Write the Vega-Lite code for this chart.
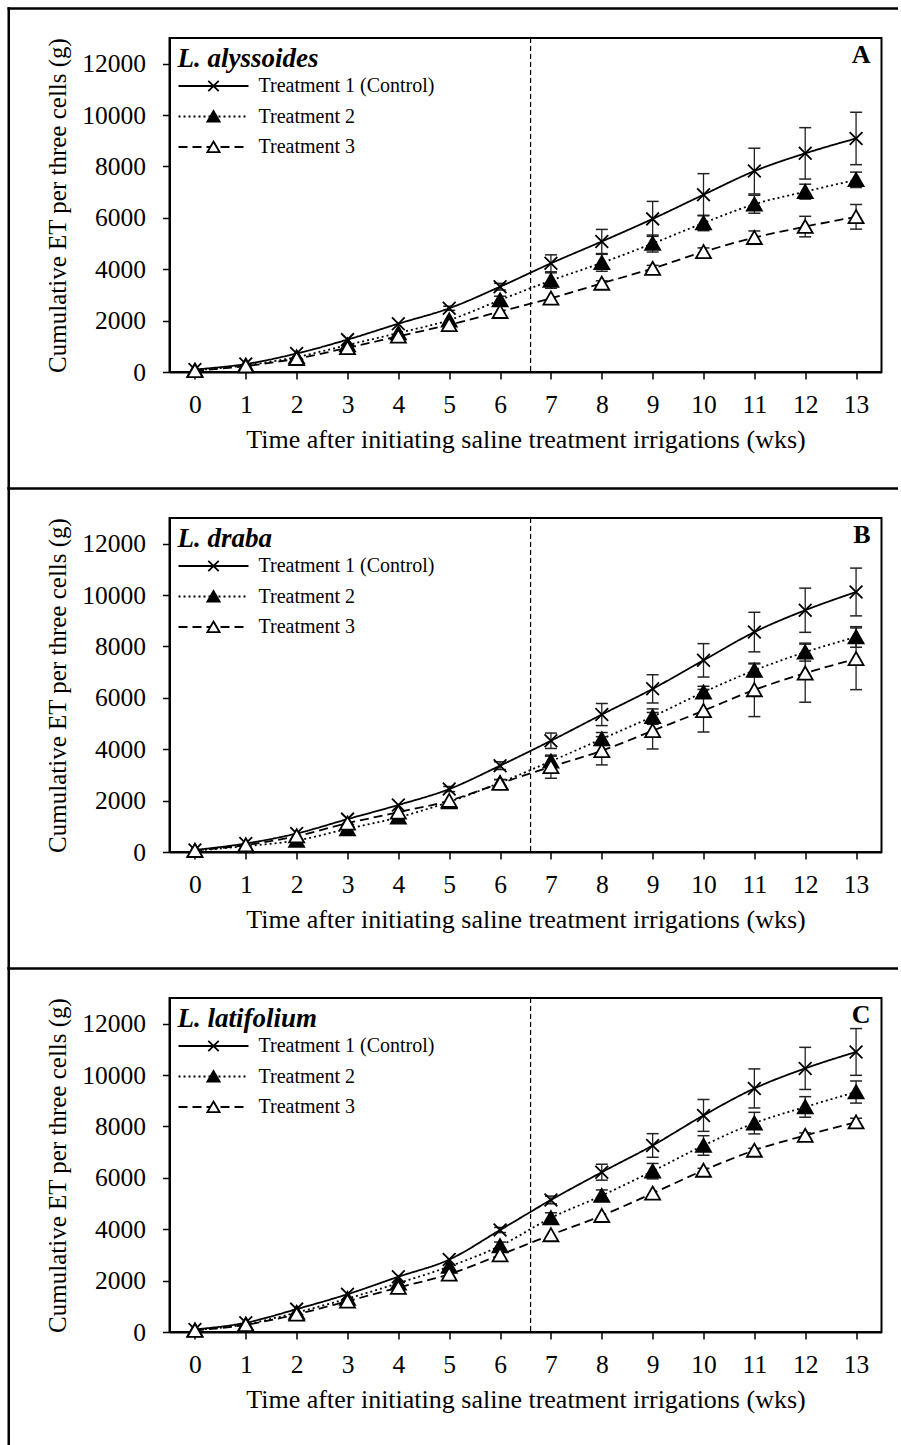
{
"$schema": "https://vega.github.io/schema/vega-lite/v6.json",
"background": "white",
"padding": {"left": 5.5, "top": 5, "right": 0, "bottom": 0},
"autosize": {"type": "pad"},
"bounds": "flush",
"spacing": 146,
"datasets": {
"et": [
{"p":"A","wk":0,"trt":"Treatment 1 (Control)","et":100},
{"p":"A","wk":1,"trt":"Treatment 1 (Control)","et":310},
{"p":"A","wk":2,"trt":"Treatment 1 (Control)","et":720},
{"p":"A","wk":3,"trt":"Treatment 1 (Control)","et":1260},
{"p":"A","wk":4,"trt":"Treatment 1 (Control)","et":1880},
{"p":"A","wk":5,"trt":"Treatment 1 (Control)","et":2480,"lo":2400,"hi":2560},
{"p":"A","wk":6,"trt":"Treatment 1 (Control)","et":3320,"lo":3190,"hi":3450},
{"p":"A","wk":7,"trt":"Treatment 1 (Control)","et":4230,"lo":3900,"hi":4560},
{"p":"A","wk":8,"trt":"Treatment 1 (Control)","et":5080,"lo":4610,"hi":5550},
{"p":"A","wk":9,"trt":"Treatment 1 (Control)","et":5960,"lo":5280,"hi":6640},
{"p":"A","wk":10,"trt":"Treatment 1 (Control)","et":6900,"lo":6080,"hi":7720},
{"p":"A","wk":11,"trt":"Treatment 1 (Control)","et":7820,"lo":6930,"hi":8710},
{"p":"A","wk":12,"trt":"Treatment 1 (Control)","et":8510,"lo":7510,"hi":9510},
{"p":"A","wk":13,"trt":"Treatment 1 (Control)","et":9090,"lo":8070,"hi":10110},
{"p":"A","wk":0,"trt":"Treatment 2","et":70},
{"p":"A","wk":1,"trt":"Treatment 2","et":260},
{"p":"A","wk":2,"trt":"Treatment 2","et":580},
{"p":"A","wk":3,"trt":"Treatment 2","et":1050},
{"p":"A","wk":4,"trt":"Treatment 2","et":1520},
{"p":"A","wk":5,"trt":"Treatment 2","et":2020},
{"p":"A","wk":6,"trt":"Treatment 2","et":2800,"lo":2650,"hi":2950},
{"p":"A","wk":7,"trt":"Treatment 2","et":3560,"lo":3260,"hi":3860},
{"p":"A","wk":8,"trt":"Treatment 2","et":4250,"lo":3920,"hi":4580},
{"p":"A","wk":9,"trt":"Treatment 2","et":5000,"lo":4670,"hi":5330},
{"p":"A","wk":10,"trt":"Treatment 2","et":5800,"lo":5500,"hi":6100},
{"p":"A","wk":11,"trt":"Treatment 2","et":6530,"lo":6180,"hi":6880},
{"p":"A","wk":12,"trt":"Treatment 2","et":7020,"lo":6730,"hi":7310},
{"p":"A","wk":13,"trt":"Treatment 2","et":7480,"lo":7180,"hi":7780},
{"p":"A","wk":0,"trt":"Treatment 3","et":50},
{"p":"A","wk":1,"trt":"Treatment 3","et":230},
{"p":"A","wk":2,"trt":"Treatment 3","et":520},
{"p":"A","wk":3,"trt":"Treatment 3","et":940},
{"p":"A","wk":4,"trt":"Treatment 3","et":1390},
{"p":"A","wk":5,"trt":"Treatment 3","et":1840},
{"p":"A","wk":6,"trt":"Treatment 3","et":2350},
{"p":"A","wk":7,"trt":"Treatment 3","et":2870},
{"p":"A","wk":8,"trt":"Treatment 3","et":3450,"lo":3350,"hi":3550},
{"p":"A","wk":9,"trt":"Treatment 3","et":4030,"lo":3910,"hi":4150},
{"p":"A","wk":10,"trt":"Treatment 3","et":4680,"lo":4530,"hi":4830},
{"p":"A","wk":11,"trt":"Treatment 3","et":5230,"lo":4970,"hi":5490},
{"p":"A","wk":12,"trt":"Treatment 3","et":5660,"lo":5260,"hi":6060},
{"p":"A","wk":13,"trt":"Treatment 3","et":6040,"lo":5560,"hi":6520},
{"p":"B","wk":0,"trt":"Treatment 1 (Control)","et":80},
{"p":"B","wk":1,"trt":"Treatment 1 (Control)","et":330},
{"p":"B","wk":2,"trt":"Treatment 1 (Control)","et":720},
{"p":"B","wk":3,"trt":"Treatment 1 (Control)","et":1280},
{"p":"B","wk":4,"trt":"Treatment 1 (Control)","et":1830},
{"p":"B","wk":5,"trt":"Treatment 1 (Control)","et":2450,"lo":2350,"hi":2550},
{"p":"B","wk":6,"trt":"Treatment 1 (Control)","et":3360,"lo":3210,"hi":3510},
{"p":"B","wk":7,"trt":"Treatment 1 (Control)","et":4330,"lo":4030,"hi":4630},
{"p":"B","wk":8,"trt":"Treatment 1 (Control)","et":5350,"lo":4920,"hi":5780},
{"p":"B","wk":9,"trt":"Treatment 1 (Control)","et":6350,"lo":5800,"hi":6900},
{"p":"B","wk":10,"trt":"Treatment 1 (Control)","et":7460,"lo":6810,"hi":8110},
{"p":"B","wk":11,"trt":"Treatment 1 (Control)","et":8560,"lo":7790,"hi":9330},
{"p":"B","wk":12,"trt":"Treatment 1 (Control)","et":9410,"lo":8550,"hi":10270},
{"p":"B","wk":13,"trt":"Treatment 1 (Control)","et":10120,"lo":9190,"hi":11050},
{"p":"B","wk":0,"trt":"Treatment 2","et":50},
{"p":"B","wk":1,"trt":"Treatment 2","et":230},
{"p":"B","wk":2,"trt":"Treatment 2","et":450},
{"p":"B","wk":3,"trt":"Treatment 2","et":900},
{"p":"B","wk":4,"trt":"Treatment 2","et":1350},
{"p":"B","wk":5,"trt":"Treatment 2","et":1950},
{"p":"B","wk":6,"trt":"Treatment 2","et":2700,"lo":2580,"hi":2820},
{"p":"B","wk":7,"trt":"Treatment 2","et":3530,"lo":3330,"hi":3730},
{"p":"B","wk":8,"trt":"Treatment 2","et":4400,"lo":4150,"hi":4650},
{"p":"B","wk":9,"trt":"Treatment 2","et":5270,"lo":4970,"hi":5570},
{"p":"B","wk":10,"trt":"Treatment 2","et":6220,"lo":5990,"hi":6450},
{"p":"B","wk":11,"trt":"Treatment 2","et":7070,"lo":6820,"hi":7320},
{"p":"B","wk":12,"trt":"Treatment 2","et":7780,"lo":7430,"hi":8130},
{"p":"B","wk":13,"trt":"Treatment 2","et":8370,"lo":7970,"hi":8770},
{"p":"B","wk":0,"trt":"Treatment 3","et":60},
{"p":"B","wk":1,"trt":"Treatment 3","et":270},
{"p":"B","wk":2,"trt":"Treatment 3","et":620},
{"p":"B","wk":3,"trt":"Treatment 3","et":1120},
{"p":"B","wk":4,"trt":"Treatment 3","et":1550},
{"p":"B","wk":5,"trt":"Treatment 3","et":2000},
{"p":"B","wk":6,"trt":"Treatment 3","et":2670,"lo":2520,"hi":2820},
{"p":"B","wk":7,"trt":"Treatment 3","et":3320,"lo":2870,"hi":3770},
{"p":"B","wk":8,"trt":"Treatment 3","et":3940,"lo":3390,"hi":4490},
{"p":"B","wk":9,"trt":"Treatment 3","et":4720,"lo":4010,"hi":5430},
{"p":"B","wk":10,"trt":"Treatment 3","et":5500,"lo":4670,"hi":6330},
{"p":"B","wk":11,"trt":"Treatment 3","et":6310,"lo":5270,"hi":7350},
{"p":"B","wk":12,"trt":"Treatment 3","et":6960,"lo":5830,"hi":8090},
{"p":"B","wk":13,"trt":"Treatment 3","et":7520,"lo":6320,"hi":8720},
{"p":"C","wk":0,"trt":"Treatment 1 (Control)","et":100},
{"p":"C","wk":1,"trt":"Treatment 1 (Control)","et":360},
{"p":"C","wk":2,"trt":"Treatment 1 (Control)","et":890},
{"p":"C","wk":3,"trt":"Treatment 1 (Control)","et":1470},
{"p":"C","wk":4,"trt":"Treatment 1 (Control)","et":2150},
{"p":"C","wk":5,"trt":"Treatment 1 (Control)","et":2820},
{"p":"C","wk":6,"trt":"Treatment 1 (Control)","et":3970,"lo":3870,"hi":4070},
{"p":"C","wk":7,"trt":"Treatment 1 (Control)","et":5140,"lo":4990,"hi":5290},
{"p":"C","wk":8,"trt":"Treatment 1 (Control)","et":6220,"lo":5910,"hi":6530},
{"p":"C","wk":9,"trt":"Treatment 1 (Control)","et":7260,"lo":6800,"hi":7720},
{"p":"C","wk":10,"trt":"Treatment 1 (Control)","et":8430,"lo":7810,"hi":9050},
{"p":"C","wk":11,"trt":"Treatment 1 (Control)","et":9480,"lo":8720,"hi":10240},
{"p":"C","wk":12,"trt":"Treatment 1 (Control)","et":10260,"lo":9440,"hi":11080},
{"p":"C","wk":13,"trt":"Treatment 1 (Control)","et":10900,"lo":9990,"hi":11810},
{"p":"C","wk":0,"trt":"Treatment 2","et":80},
{"p":"C","wk":1,"trt":"Treatment 2","et":300},
{"p":"C","wk":2,"trt":"Treatment 2","et":760},
{"p":"C","wk":3,"trt":"Treatment 2","et":1300},
{"p":"C","wk":4,"trt":"Treatment 2","et":1900},
{"p":"C","wk":5,"trt":"Treatment 2","et":2550},
{"p":"C","wk":6,"trt":"Treatment 2","et":3350,"lo":3200,"hi":3500},
{"p":"C","wk":7,"trt":"Treatment 2","et":4440,"lo":4240,"hi":4640},
{"p":"C","wk":8,"trt":"Treatment 2","et":5310,"lo":5090,"hi":5530},
{"p":"C","wk":9,"trt":"Treatment 2","et":6260,"lo":5960,"hi":6560},
{"p":"C","wk":10,"trt":"Treatment 2","et":7260,"lo":6880,"hi":7640},
{"p":"C","wk":11,"trt":"Treatment 2","et":8130,"lo":7710,"hi":8550},
{"p":"C","wk":12,"trt":"Treatment 2","et":8760,"lo":8360,"hi":9160},
{"p":"C","wk":13,"trt":"Treatment 2","et":9340,"lo":8910,"hi":9770},
{"p":"C","wk":0,"trt":"Treatment 3","et":60},
{"p":"C","wk":1,"trt":"Treatment 3","et":280},
{"p":"C","wk":2,"trt":"Treatment 3","et":690},
{"p":"C","wk":3,"trt":"Treatment 3","et":1200},
{"p":"C","wk":4,"trt":"Treatment 3","et":1730},
{"p":"C","wk":5,"trt":"Treatment 3","et":2250},
{"p":"C","wk":6,"trt":"Treatment 3","et":3000},
{"p":"C","wk":7,"trt":"Treatment 3","et":3780},
{"p":"C","wk":8,"trt":"Treatment 3","et":4530},
{"p":"C","wk":9,"trt":"Treatment 3","et":5400},
{"p":"C","wk":10,"trt":"Treatment 3","et":6290,"lo":6210,"hi":6370},
{"p":"C","wk":11,"trt":"Treatment 3","et":7070,"lo":6990,"hi":7150},
{"p":"C","wk":12,"trt":"Treatment 3","et":7650,"lo":7550,"hi":7750},
{"p":"C","wk":13,"trt":"Treatment 3","et":8170,"lo":8020,"hi":8320}
]
},
"vconcat": [
{
"width": 712, "height": 334,
"layer": [
{"data":{"values":[{}]},"mark":{"type":"rule","color":"black","strokeWidth":2.5,"strokeCap":"square"},"encoding":{"x":{"datum":-3.661,"type":"quantitative"},"x2":{"datum":13.8},"y":{"datum":14148,"type":"quantitative"}}},
{"data":{"values":[{}]},"mark":{"type":"rule","color":"black","strokeWidth":2.5,"strokeCap":"square"},"encoding":{"x":{"datum":-3.661,"type":"quantitative"},"y":{"datum":14148,"type":"quantitative"},"y2":{"datum":-4534}}},
{"data":{"values":[{}]},"mark":{"type":"rule","color":"black","strokeWidth":1.2,"strokeDash":[5,3]},"encoding":{"x":{"datum":6.6,"type":"quantitative"}}},
{"data":{"name":"et"},"transform":[{"filter":"datum.p == 'A'"}],
 "mark":{"type":"line","interpolate":"monotone","color":"black","strokeWidth":1.8},
 "encoding":{
  "x":{"field":"wk","type":"quantitative","scale":{"domain":[-0.5,13.5],"nice":false,"zero":false},"axis":{"title":"Time after initiating saline treatment irrigations (wks)","labelOverlap":false,"values":[0,0.5,1,1.5,2,2.5,3,3.5,4,4.5,5,5.5,6,6.5,7,7.5,8,8.5,9,9.5,10,10.5,11,11.5,12,12.5,13,13.5],"labelExpr":"datum.value % 1 == 0 ? format(datum.value, 'd') : ''"}},
  "y":{"field":"et","type":"quantitative","scale":{"domain":[0,13000],"nice":false,"zero":false},"axis":{"title":"Cumulative ET per three cells (g)","labelOverlap":false,"values":[0,1000,2000,3000,4000,5000,6000,7000,8000,9000,10000,11000,12000],"labelExpr":"datum.value % 2000 == 0 ? format(datum.value, 'd') : ''"}},
  "strokeDash":{"field":"trt","type":"nominal","scale":{"domain":["Treatment 1 (Control)","Treatment 2","Treatment 3"],"range":[[1,0],[2,3],[9,5]]},
   "legend":{"orient":"top-left","offset":8,"title":"L. alyssoides","titleFont":"Liberation Serif","titleFontSize":27,"titleFontStyle":"italic","titleFontWeight":"bold","titleColor":"black","titlePadding":3,"titleLimit":500,"labelFont":"Liberation Serif","labelFontSize":20,"labelColor":"black","labelOffset":9,"labelLimit":500,"symbolType":"stroke","symbolSize":4900,"symbolStrokeWidth":2,"symbolStrokeColor":"black","clipHeight":20,"rowPadding":10.5,"padding":0}}
 }},
{"data":{"name":"et"},"transform":[{"filter":"datum.p == 'A' && isValid(datum.lo)"}],"mark":{"type":"rule","color":"#222","strokeWidth":1.3},"encoding":{"x":{"field":"wk","type":"quantitative"},"y":{"field":"lo","type":"quantitative"},"y2":{"field":"hi"}}},
{"data":{"name":"et"},"transform":[{"filter":"datum.p == 'A' && isValid(datum.lo)"}],"mark":{"type":"tick","orient":"horizontal","size":12,"thickness":1.5,"color":"#222","opacity":1},"encoding":{"x":{"field":"wk","type":"quantitative"},"y":{"field":"lo","type":"quantitative"}}},
{"data":{"name":"et"},"transform":[{"filter":"datum.p == 'A' && isValid(datum.lo)"}],"mark":{"type":"tick","orient":"horizontal","size":12,"thickness":1.5,"color":"#222","opacity":1},"encoding":{"x":{"field":"wk","type":"quantitative"},"y":{"field":"hi","type":"quantitative"}}},
{"data":{"name":"et"},"transform":[{"filter":"datum.p == 'A'"}],
 "mark":{"type":"point","filled":true,"size":225,"strokeWidth":1.8,"opacity":1},
 "encoding":{
  "x":{"field":"wk","type":"quantitative"},
  "y":{"field":"et","type":"quantitative"},
  "shape":{"field":"trt","type":"nominal","scale":{"range":["M-0.85,-0.85L0.85,0.85M-0.85,0.85L0.85,-0.85","M0,-0.9L1,0.85L-1,0.85Z","M0,-0.9L1,0.85L-1,0.85Z"]},
   "legend":{"orient":"none","legendX":34,"legendY":8,"title":" ","titleFont":"Liberation Serif","titleFontSize":27,"titleFontStyle":"italic","titleFontWeight":"bold","titleOpacity":0,"titlePadding":3,"titleLimit":500,"labelFont":"Liberation Serif","labelFontSize":20,"labelOpacity":0,"labelExpr":"''","labelOffset":9,"labelLimit":500,"symbolSize":150,"symbolStrokeWidth":1.8,"symbolOpacity":1,"clipHeight":20,"rowPadding":10.5,"padding":0}},
  "fill":{"field":"trt","type":"nominal","scale":{"range":["black","black","white"]},
   "legend":{"orient":"none","legendX":34,"legendY":8,"title":" ","titleFont":"Liberation Serif","titleFontSize":27,"titleFontStyle":"italic","titleFontWeight":"bold","titleOpacity":0,"titlePadding":3,"titleLimit":500,"labelFont":"Liberation Serif","labelFontSize":20,"labelOpacity":0,"labelExpr":"''","labelOffset":9,"labelLimit":500,"symbolSize":150,"symbolStrokeWidth":1.8,"symbolOpacity":1,"clipHeight":20,"rowPadding":10.5,"padding":0}},
  "stroke":{"field":"trt","type":"nominal","scale":{"range":["black","black","black"]},
   "legend":{"orient":"none","legendX":34,"legendY":8,"title":" ","titleFont":"Liberation Serif","titleFontSize":27,"titleFontStyle":"italic","titleFontWeight":"bold","titleOpacity":0,"titlePadding":3,"titleLimit":500,"labelFont":"Liberation Serif","labelFontSize":20,"labelOpacity":0,"labelExpr":"''","labelOffset":9,"labelLimit":500,"symbolSize":150,"symbolStrokeWidth":1.8,"symbolOpacity":1,"clipHeight":20,"rowPadding":10.5,"padding":0}}
 }},
{"data":{"values":[{"t":"A"}]},"mark":{"type":"text","align":"right","baseline":"top","dx":-11,"dy":4,"font":"Liberation Serif","fontSize":26,"fontWeight":"bold","color":"black"},"encoding":{"x":{"datum":13.5,"type":"quantitative"},"y":{"datum":13000,"type":"quantitative"},"text":{"field":"t"}}}
]
},
{
"width": 712, "height": 334,
"layer": [
{"data":{"values":[{}]},"mark":{"type":"rule","color":"black","strokeWidth":2.5,"strokeCap":"square"},"encoding":{"x":{"datum":-3.661,"type":"quantitative"},"x2":{"datum":13.8},"y":{"datum":14148,"type":"quantitative"}}},
{"data":{"values":[{}]},"mark":{"type":"rule","color":"black","strokeWidth":2.5,"strokeCap":"square"},"encoding":{"x":{"datum":-3.661,"type":"quantitative"},"y":{"datum":14148,"type":"quantitative"},"y2":{"datum":-4534}}},
{"data":{"values":[{}]},"mark":{"type":"rule","color":"black","strokeWidth":1.2,"strokeDash":[5,3]},"encoding":{"x":{"datum":6.6,"type":"quantitative"}}},
{"data":{"name":"et"},"transform":[{"filter":"datum.p == 'B'"}],
 "mark":{"type":"line","interpolate":"monotone","color":"black","strokeWidth":1.8},
 "encoding":{
  "x":{"field":"wk","type":"quantitative","scale":{"domain":[-0.5,13.5],"nice":false,"zero":false},"axis":{"title":"Time after initiating saline treatment irrigations (wks)","labelOverlap":false,"values":[0,0.5,1,1.5,2,2.5,3,3.5,4,4.5,5,5.5,6,6.5,7,7.5,8,8.5,9,9.5,10,10.5,11,11.5,12,12.5,13,13.5],"labelExpr":"datum.value % 1 == 0 ? format(datum.value, 'd') : ''"}},
  "y":{"field":"et","type":"quantitative","scale":{"domain":[0,13000],"nice":false,"zero":false},"axis":{"title":"Cumulative ET per three cells (g)","labelOverlap":false,"values":[0,1000,2000,3000,4000,5000,6000,7000,8000,9000,10000,11000,12000],"labelExpr":"datum.value % 2000 == 0 ? format(datum.value, 'd') : ''"}},
  "strokeDash":{"field":"trt","type":"nominal","scale":{"domain":["Treatment 1 (Control)","Treatment 2","Treatment 3"],"range":[[1,0],[2,3],[9,5]]},
   "legend":{"orient":"top-left","offset":8,"title":"L. draba","titleFont":"Liberation Serif","titleFontSize":27,"titleFontStyle":"italic","titleFontWeight":"bold","titleColor":"black","titlePadding":3,"titleLimit":500,"labelFont":"Liberation Serif","labelFontSize":20,"labelColor":"black","labelOffset":9,"labelLimit":500,"symbolType":"stroke","symbolSize":4900,"symbolStrokeWidth":2,"symbolStrokeColor":"black","clipHeight":20,"rowPadding":10.5,"padding":0}}
 }},
{"data":{"name":"et"},"transform":[{"filter":"datum.p == 'B' && isValid(datum.lo)"}],"mark":{"type":"rule","color":"#222","strokeWidth":1.3},"encoding":{"x":{"field":"wk","type":"quantitative"},"y":{"field":"lo","type":"quantitative"},"y2":{"field":"hi"}}},
{"data":{"name":"et"},"transform":[{"filter":"datum.p == 'B' && isValid(datum.lo)"}],"mark":{"type":"tick","orient":"horizontal","size":12,"thickness":1.5,"color":"#222","opacity":1},"encoding":{"x":{"field":"wk","type":"quantitative"},"y":{"field":"lo","type":"quantitative"}}},
{"data":{"name":"et"},"transform":[{"filter":"datum.p == 'B' && isValid(datum.lo)"}],"mark":{"type":"tick","orient":"horizontal","size":12,"thickness":1.5,"color":"#222","opacity":1},"encoding":{"x":{"field":"wk","type":"quantitative"},"y":{"field":"hi","type":"quantitative"}}},
{"data":{"name":"et"},"transform":[{"filter":"datum.p == 'B'"}],
 "mark":{"type":"point","filled":true,"size":225,"strokeWidth":1.8,"opacity":1},
 "encoding":{
  "x":{"field":"wk","type":"quantitative"},
  "y":{"field":"et","type":"quantitative"},
  "shape":{"field":"trt","type":"nominal","scale":{"range":["M-0.85,-0.85L0.85,0.85M-0.85,0.85L0.85,-0.85","M0,-0.9L1,0.85L-1,0.85Z","M0,-0.9L1,0.85L-1,0.85Z"]},
   "legend":{"orient":"none","legendX":34,"legendY":8,"title":" ","titleFont":"Liberation Serif","titleFontSize":27,"titleFontStyle":"italic","titleFontWeight":"bold","titleOpacity":0,"titlePadding":3,"titleLimit":500,"labelFont":"Liberation Serif","labelFontSize":20,"labelOpacity":0,"labelExpr":"''","labelOffset":9,"labelLimit":500,"symbolSize":150,"symbolStrokeWidth":1.8,"symbolOpacity":1,"clipHeight":20,"rowPadding":10.5,"padding":0}},
  "fill":{"field":"trt","type":"nominal","scale":{"range":["black","black","white"]},
   "legend":{"orient":"none","legendX":34,"legendY":8,"title":" ","titleFont":"Liberation Serif","titleFontSize":27,"titleFontStyle":"italic","titleFontWeight":"bold","titleOpacity":0,"titlePadding":3,"titleLimit":500,"labelFont":"Liberation Serif","labelFontSize":20,"labelOpacity":0,"labelExpr":"''","labelOffset":9,"labelLimit":500,"symbolSize":150,"symbolStrokeWidth":1.8,"symbolOpacity":1,"clipHeight":20,"rowPadding":10.5,"padding":0}},
  "stroke":{"field":"trt","type":"nominal","scale":{"range":["black","black","black"]},
   "legend":{"orient":"none","legendX":34,"legendY":8,"title":" ","titleFont":"Liberation Serif","titleFontSize":27,"titleFontStyle":"italic","titleFontWeight":"bold","titleOpacity":0,"titlePadding":3,"titleLimit":500,"labelFont":"Liberation Serif","labelFontSize":20,"labelOpacity":0,"labelExpr":"''","labelOffset":9,"labelLimit":500,"symbolSize":150,"symbolStrokeWidth":1.8,"symbolOpacity":1,"clipHeight":20,"rowPadding":10.5,"padding":0}}
 }},
{"data":{"values":[{"t":"B"}]},"mark":{"type":"text","align":"right","baseline":"top","dx":-11,"dy":4,"font":"Liberation Serif","fontSize":26,"fontWeight":"bold","color":"black"},"encoding":{"x":{"datum":13.5,"type":"quantitative"},"y":{"datum":13000,"type":"quantitative"},"text":{"field":"t"}}}
]
},
{
"width": 712, "height": 334,
"layer": [
{"data":{"values":[{}]},"mark":{"type":"rule","color":"black","strokeWidth":2.5,"strokeCap":"square"},"encoding":{"x":{"datum":-3.661,"type":"quantitative"},"x2":{"datum":13.8},"y":{"datum":14148,"type":"quantitative"}}},
{"data":{"values":[{}]},"mark":{"type":"rule","color":"black","strokeWidth":2.5,"strokeCap":"square"},"encoding":{"x":{"datum":-3.661,"type":"quantitative"},"y":{"datum":14148,"type":"quantitative"},"y2":{"datum":-4400}}},
{"data":{"values":[{}]},"mark":{"type":"rule","color":"black","strokeWidth":1.2,"strokeDash":[5,3]},"encoding":{"x":{"datum":6.6,"type":"quantitative"}}},
{"data":{"name":"et"},"transform":[{"filter":"datum.p == 'C'"}],
 "mark":{"type":"line","interpolate":"monotone","color":"black","strokeWidth":1.8},
 "encoding":{
  "x":{"field":"wk","type":"quantitative","scale":{"domain":[-0.5,13.5],"nice":false,"zero":false},"axis":{"title":"Time after initiating saline treatment irrigations (wks)","labelOverlap":false,"values":[0,0.5,1,1.5,2,2.5,3,3.5,4,4.5,5,5.5,6,6.5,7,7.5,8,8.5,9,9.5,10,10.5,11,11.5,12,12.5,13,13.5],"labelExpr":"datum.value % 1 == 0 ? format(datum.value, 'd') : ''"}},
  "y":{"field":"et","type":"quantitative","scale":{"domain":[0,13000],"nice":false,"zero":false},"axis":{"title":"Cumulative ET per three cells (g)","labelOverlap":false,"values":[0,1000,2000,3000,4000,5000,6000,7000,8000,9000,10000,11000,12000],"labelExpr":"datum.value % 2000 == 0 ? format(datum.value, 'd') : ''"}},
  "strokeDash":{"field":"trt","type":"nominal","scale":{"domain":["Treatment 1 (Control)","Treatment 2","Treatment 3"],"range":[[1,0],[2,3],[9,5]]},
   "legend":{"orient":"top-left","offset":8,"title":"L. latifolium","titleFont":"Liberation Serif","titleFontSize":27,"titleFontStyle":"italic","titleFontWeight":"bold","titleColor":"black","titlePadding":3,"titleLimit":500,"labelFont":"Liberation Serif","labelFontSize":20,"labelColor":"black","labelOffset":9,"labelLimit":500,"symbolType":"stroke","symbolSize":4900,"symbolStrokeWidth":2,"symbolStrokeColor":"black","clipHeight":20,"rowPadding":10.5,"padding":0}}
 }},
{"data":{"name":"et"},"transform":[{"filter":"datum.p == 'C' && isValid(datum.lo)"}],"mark":{"type":"rule","color":"#222","strokeWidth":1.3},"encoding":{"x":{"field":"wk","type":"quantitative"},"y":{"field":"lo","type":"quantitative"},"y2":{"field":"hi"}}},
{"data":{"name":"et"},"transform":[{"filter":"datum.p == 'C' && isValid(datum.lo)"}],"mark":{"type":"tick","orient":"horizontal","size":12,"thickness":1.5,"color":"#222","opacity":1},"encoding":{"x":{"field":"wk","type":"quantitative"},"y":{"field":"lo","type":"quantitative"}}},
{"data":{"name":"et"},"transform":[{"filter":"datum.p == 'C' && isValid(datum.lo)"}],"mark":{"type":"tick","orient":"horizontal","size":12,"thickness":1.5,"color":"#222","opacity":1},"encoding":{"x":{"field":"wk","type":"quantitative"},"y":{"field":"hi","type":"quantitative"}}},
{"data":{"name":"et"},"transform":[{"filter":"datum.p == 'C'"}],
 "mark":{"type":"point","filled":true,"size":225,"strokeWidth":1.8,"opacity":1},
 "encoding":{
  "x":{"field":"wk","type":"quantitative"},
  "y":{"field":"et","type":"quantitative"},
  "shape":{"field":"trt","type":"nominal","scale":{"range":["M-0.85,-0.85L0.85,0.85M-0.85,0.85L0.85,-0.85","M0,-0.9L1,0.85L-1,0.85Z","M0,-0.9L1,0.85L-1,0.85Z"]},
   "legend":{"orient":"none","legendX":34,"legendY":8,"title":" ","titleFont":"Liberation Serif","titleFontSize":27,"titleFontStyle":"italic","titleFontWeight":"bold","titleOpacity":0,"titlePadding":3,"titleLimit":500,"labelFont":"Liberation Serif","labelFontSize":20,"labelOpacity":0,"labelExpr":"''","labelOffset":9,"labelLimit":500,"symbolSize":150,"symbolStrokeWidth":1.8,"symbolOpacity":1,"clipHeight":20,"rowPadding":10.5,"padding":0}},
  "fill":{"field":"trt","type":"nominal","scale":{"range":["black","black","white"]},
   "legend":{"orient":"none","legendX":34,"legendY":8,"title":" ","titleFont":"Liberation Serif","titleFontSize":27,"titleFontStyle":"italic","titleFontWeight":"bold","titleOpacity":0,"titlePadding":3,"titleLimit":500,"labelFont":"Liberation Serif","labelFontSize":20,"labelOpacity":0,"labelExpr":"''","labelOffset":9,"labelLimit":500,"symbolSize":150,"symbolStrokeWidth":1.8,"symbolOpacity":1,"clipHeight":20,"rowPadding":10.5,"padding":0}},
  "stroke":{"field":"trt","type":"nominal","scale":{"range":["black","black","black"]},
   "legend":{"orient":"none","legendX":34,"legendY":8,"title":" ","titleFont":"Liberation Serif","titleFontSize":27,"titleFontStyle":"italic","titleFontWeight":"bold","titleOpacity":0,"titlePadding":3,"titleLimit":500,"labelFont":"Liberation Serif","labelFontSize":20,"labelOpacity":0,"labelExpr":"''","labelOffset":9,"labelLimit":500,"symbolSize":150,"symbolStrokeWidth":1.8,"symbolOpacity":1,"clipHeight":20,"rowPadding":10.5,"padding":0}}
 }},
{"data":{"values":[{"t":"C"}]},"mark":{"type":"text","align":"right","baseline":"top","dx":-11,"dy":4,"font":"Liberation Serif","fontSize":26,"fontWeight":"bold","color":"black"},"encoding":{"x":{"datum":13.5,"type":"quantitative"},"y":{"datum":13000,"type":"quantitative"},"text":{"field":"t"}}}
]
}
],
"resolve": {
 "scale": {"x":"independent","y":"independent","shape":"independent","fill":"independent","stroke":"independent","strokeDash":"independent"},
 "axis": {"x":"independent","y":"independent"},
 "legend": {"shape":"independent","fill":"independent","stroke":"independent","strokeDash":"independent"}
},
"config": {
 "font": "Liberation Serif",
 "view": {"stroke": "black", "strokeWidth": 2},
 "axis": {"grid": false, "domainColor": "black", "domainWidth": 2, "tickColor": "black", "tickWidth": 1.5, "tickSize": 7, "labelFont": "Liberation Serif", "labelFontSize": 25.5, "labelColor": "black", "titleFont": "Liberation Serif", "titleFontWeight": "normal", "titleColor": "black", "labelOverlap": false, "labelFlush": false},
 "axisX": {"labelPadding": 13, "titlePadding": 9, "titleFontSize": 26},
 "axisY": {"labelPadding": 17, "titlePadding": 11, "titleFontSize": 25}
}
}
